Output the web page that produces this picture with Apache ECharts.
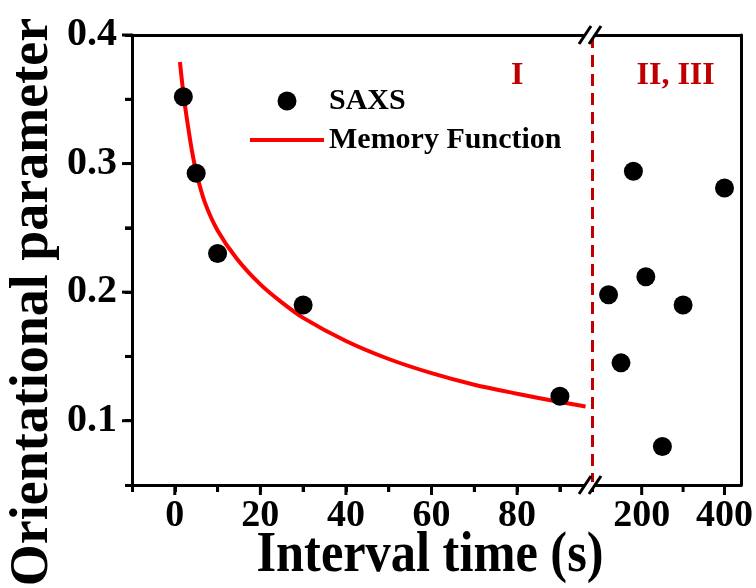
<!DOCTYPE html>
<html>
<head>
<meta charset="utf-8">
<script src="https://cdn.jsdelivr.net/npm/echarts@6/dist/echarts.min.js"></script>
<style>
  html, body { margin: 0; padding: 0; background: #fff; }
  #chart { width: 756px; height: 588px; }
</style>
</head>
<body>
<div id="chart"></div>
<script>
// Orientational parameter from SAXS against interval time, on a broken time axis.
const earlyTimes = [2, 5, 10, 30, 90];
const earlyValues = [0.352, 0.2925, 0.230, 0.190, 0.119];
const lateTimes = [120, 150, 180, 210, 250, 300, 400];
const lateValues = [0.198, 0.145, 0.294, 0.212, 0.080, 0.190, 0.281];
const fitTimes = [1.2, 2.1, 3, 4, 5.1, 7, 10, 14.5, 20, 25, 30, 40, 50, 60, 70, 80, 90, 96];
const fitValues = [0.379, 0.352, 0.331, 0.310, 0.292, 0.270, 0.248, 0.226, 0.206, 0.192, 0.180, 0.162, 0.148, 0.137, 0.128, 0.121, 0.1145, 0.111];

const earlyRange = [-10, 97.5];
const lateRange = [80, 440];
const yRange = [0.05, 0.4];
const earlyMajor = [0, 20, 40, 60, 80];
const earlyMinor = [10, 30, 50, 70, 90];
const lateMajor = [200, 400];
const lateMinor = [300];
const yMajor = [0.1, 0.2, 0.3, 0.4];
const yMinor = [0.15, 0.25, 0.35];
const regionNames = ['I', 'II, III'];
const seriesNames = ['SAXS', 'Memory Function'];
const xTitle = 'Interval time (s)';
const yTitle = 'Orientational parameter';

const FONT = '"Liberation Serif", "Times New Roman", serif';
const INK = '#000';
const DIVIDER = '#c00000';
const FIT = '#ff0000';
const lineW = 3;
const MAJOR_LEN = 10;
const MINOR_LEN = 7;

const pairs = (xs, ys) => xs.map((x, i) => [x, ys[i]]);

// One axis per side: frame line, short outward ticks and bold serif labels.
function axis(kind, grid, range, pos, opts) {
  const o = opts || {};
  return {
    type: 'value', gridIndex: grid, position: pos,
    min: range[0], max: range[1],
    interval: o.step,
    axisLine: { show: o.line !== false, onZero: false, lineStyle: { color: INK, width: lineW } },
    axisTick: o.step ? { show: true, inside: false, length: MINOR_LEN, lineStyle: { color: INK, width: lineW } } : { show: false },
    axisLabel: o.labels ? {
      show: true, customValues: o.labels, margin: kind === 'x' ? 12 : 15,
      fontSize: kind === 'x' ? 38 : 40, fontWeight: 'bold', fontFamily: FONT, color: INK,
      formatter: v => (kind === 'y' ? v.toFixed(1) : String(v))
    } : { show: false },
    splitLine: { show: false }
  };
}

const chart = echarts.init(document.getElementById('chart'), null, { renderer: 'canvas' });

chart.setOption({
  animation: false,
  backgroundColor: '#fff',
  grid: [
    { left: 132, top: 35, width: 460, height: 450 },
    { left: 592, top: 35, width: 151, height: 450 }
  ],
  xAxis: [
    axis('x', 0, earlyRange, 'bottom', { labels: earlyMajor, step: 10 }),
    axis('x', 0, earlyRange, 'top'),
    axis('x', 1, lateRange, 'bottom', { labels: lateMajor }),
    axis('x', 1, lateRange, 'top')
  ],
  yAxis: [
    axis('y', 0, yRange, 'left', { labels: yMajor, step: 0.05 }),
    axis('y', 1, yRange, 'left', { line: false }),
    axis('y', 1, yRange, 'right')
  ],
  legend: {
    data: [
      { name: seriesNames[0] },
      { name: seriesNames[1], itemStyle: { color: 'rgba(0,0,0,0)', borderWidth: 0, opacity: 0 } }
    ],
    orient: 'vertical',
    left: 248, top: 86, padding: 0,
    itemWidth: 74, itemHeight: 19, itemGap: 9,
    lineStyle: { width: 4, color: FIT },
    textStyle: { fontSize: 30, fontWeight: 'bold', fontFamily: FONT, color: INK, lineHeight: 30 }
  },
  series: [
    {
      name: seriesNames[1], type: 'line', xAxisIndex: 0, yAxisIndex: 0,
      data: pairs(fitTimes, fitValues),
      smooth: 0.3, symbol: 'none', showSymbol: false, color: FIT,
      lineStyle: { color: FIT, width: 4 }, z: 2
    },
    {
      name: seriesNames[0], type: 'scatter', xAxisIndex: 0, yAxisIndex: 0,
      data: pairs(earlyTimes, earlyValues),
      symbol: 'circle', symbolSize: 19, itemStyle: { color: INK, opacity: 1 }, z: 3, clip: false,
      markLine: {
        silent: true, symbol: ['none', 'none'], label: { show: false },
        lineStyle: { color: DIVIDER, width: 3, type: [12, 7] },
        data: [{ xAxis: earlyRange[1] }]
      }
    },
    {
      name: seriesNames[0], type: 'scatter', xAxisIndex: 2, yAxisIndex: 1,
      data: pairs(lateTimes, lateValues),
      symbol: 'circle', symbolSize: 19, itemStyle: { color: INK, opacity: 1 }, z: 3
    }
  ]
});

const graphics = [];
const yTop = chart.convertToPixel({ yAxisIndex: 0 }, yRange[1]);
const yBot = chart.convertToPixel({ yAxisIndex: 0 }, yRange[0]);
const xLeft = chart.convertToPixel({ xAxisIndex: 0 }, earlyRange[0]);

// Longer ticks at labelled values, plus the ticks of the late time range.
function addTick(x1, y1, x2, y2) {
  graphics.push({
    type: 'line', z: 150,
    shape: { x1: x1, y1: y1, x2: x2, y2: y2 },
    style: { stroke: INK, lineWidth: lineW }
  });
}
function addXTicks(axisIndex, values, len) {
  values.forEach(v => {
    const px = chart.convertToPixel({ xAxisIndex: axisIndex }, v);
    addTick(px, yBot, px, yBot + len);
  });
}
function addYTicks(values, len) {
  values.forEach(v => {
    const py = chart.convertToPixel({ yAxisIndex: 0 }, v);
    addTick(xLeft, py, xLeft - len, py);
  });
}
addXTicks(0, earlyMajor, MAJOR_LEN);
addXTicks(0, earlyMinor, MINOR_LEN);
addXTicks(2, lateMajor, MAJOR_LEN);
addXTicks(2, lateMinor, MINOR_LEN);
addYTicks(yMajor, MAJOR_LEN);
addYTicks(yMinor, MINOR_LEN);

// Break symbols on the top and bottom frame lines, where the two time ranges meet.
const bx = chart.convertToPixel({ xAxisIndex: 0 }, earlyRange[1]);
[yTop, yBot].forEach(y => {
  const s1 = bx - 7, s2 = bx + 3;
  graphics.push({
    type: 'polygon', z: 160,
    shape: { points: [[s1 - 1.5, y + 3], [s2 - 1.5, y + 3], [s2 + 1.5, y - 3], [s1 + 1.5, y - 3]] },
    style: { fill: '#fff' }
  });
  [s1, s2].forEach(s => graphics.push({
    type: 'line', z: 161,
    shape: { x1: s - 6, y1: y + 9, x2: s + 6, y2: y - 9 },
    style: { stroke: INK, lineWidth: lineW }
  }));
});

// Region labels on either side of the divider.
const regionAnchors = [
  chart.convertToPixel({ xAxisIndex: 0, yAxisIndex: 0 }, [80, 0.368]),
  chart.convertToPixel({ xAxisIndex: 2, yAxisIndex: 1 }, [282, 0.368])
];
regionNames.forEach((name, i) => graphics.push({
  type: 'text', z: 50, x: regionAnchors[i][0], y: regionAnchors[i][1],
  style: { text: name, fill: DIVIDER, font: 'bold 32px ' + FONT, align: 'center', verticalAlign: 'middle' }
}));

// Axis titles.
graphics.push({
  type: 'text', z: 50, x: 430, y: 557, scaleX: 0.9,
  style: { text: xTitle, fill: INK, font: 'bold 56px ' + FONT, align: 'center', verticalAlign: 'middle' }
});
graphics.push({
  type: 'text', z: 50, x: 33, y: 302, rotation: Math.PI / 2,
  style: { text: yTitle, fill: INK, font: 'bold 54px ' + FONT, align: 'center', verticalAlign: 'middle' }
});

chart.setOption({ graphic: graphics });
</script>
</body>
</html>
